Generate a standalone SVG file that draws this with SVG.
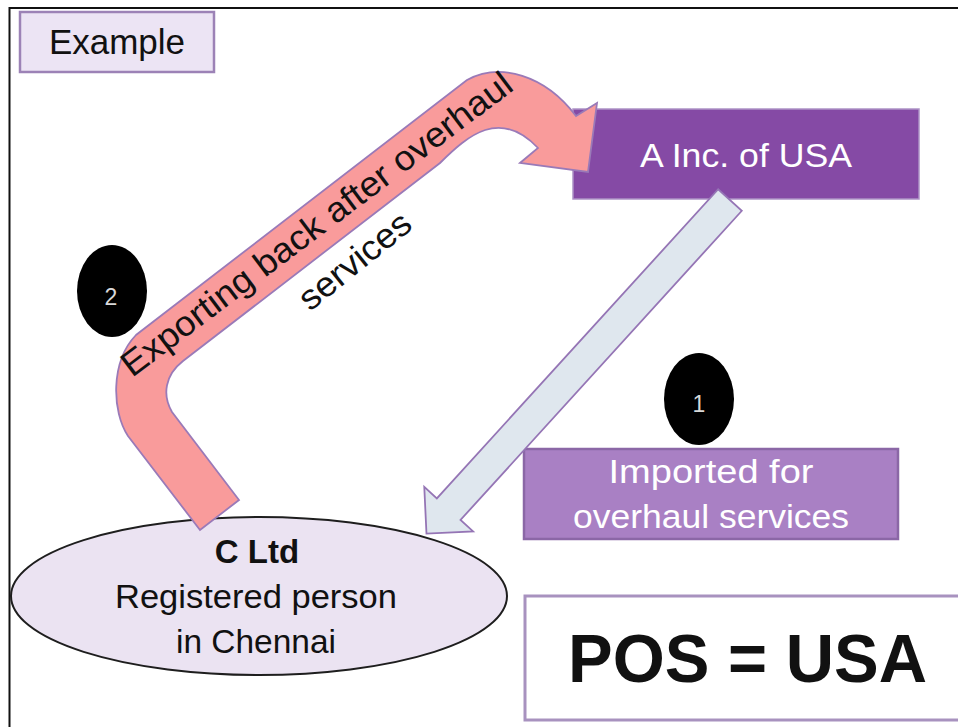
<svg xmlns="http://www.w3.org/2000/svg" width="958" height="727" viewBox="0 0 958 727">
  <style>
    .lbl { font-family: "Liberation Sans", Arial, sans-serif; }
    .white { fill: #ffffff; }
    .dark { fill: #111111; }
    .badge { fill: #000000; }
    .badge-num { font-family: "Liberation Sans", Arial, sans-serif; font-size: 23px; fill: #d8d8d8; text-anchor: middle; }
  </style>

  <rect width="958" height="727" fill="#ffffff"/>
  <!-- slide frame -->
  <rect x="9.5" y="8" width="980" height="760" fill="none" stroke="#111111" stroke-width="2"/>

  <g id="example-tag">
    <rect x="20" y="12" width="194" height="60" fill="#ece4f4" stroke="#9c82b6" stroke-width="2.5"/>
    <text class="lbl dark" x="117" y="54" font-size="35" text-anchor="middle">Example</text>
  </g>

  <g id="a-inc">
    <rect x="573" y="109" width="346" height="90" fill="#854aa5" stroke="#ad92c6" stroke-width="1.5"/>
    <text class="lbl white" x="746" y="167" font-size="34" text-anchor="middle" textLength="212" lengthAdjust="spacingAndGlyphs">A Inc. of USA</text>
  </g>

  <g id="imported-label">
    <rect x="524" y="449" width="374" height="90" fill="#a980c4" stroke="#8b67a6" stroke-width="2.5"/>
    <text class="lbl white" x="711" y="483" font-size="34" text-anchor="middle" textLength="205" lengthAdjust="spacingAndGlyphs">Imported for</text>
    <text class="lbl white" x="711" y="528" font-size="34" text-anchor="middle" textLength="276" lengthAdjust="spacingAndGlyphs">overhaul services</text>
  </g>

  <g id="pos-result">
    <rect x="525" y="596" width="450" height="124" fill="#ffffff" stroke="#a892bf" stroke-width="3"/>
    <text class="lbl dark" x="568" y="682" font-size="68" font-weight="bold" textLength="359" lengthAdjust="spacingAndGlyphs">POS = USA</text>
  </g>

  <g id="c-ltd">
    <ellipse cx="259" cy="596" rx="248" ry="79" fill="#ebe3f2" stroke="#1e1e1e" stroke-width="2"/>
    <text class="lbl dark" x="257" y="563" font-size="33" font-weight="bold" text-anchor="middle">C Ltd</text>
    <text class="lbl dark" x="256" y="608" font-size="34" text-anchor="middle" textLength="282" lengthAdjust="spacingAndGlyphs">Registered person</text>
    <text class="lbl dark" x="256" y="653" font-size="34" text-anchor="middle" textLength="160" lengthAdjust="spacingAndGlyphs">in Chennai</text>
  </g>

  <g id="step-1">
    <ellipse class="badge" cx="699" cy="399" rx="35" ry="46"/>
    <text class="badge-num" x="699" y="412">1</text>
  </g>

  <g id="step-2">
    <ellipse class="badge" cx="112" cy="291" rx="35" ry="46"/>
    <text class="badge-num" x="111" y="305">2</text>
  </g>

  <g id="connectors">
    <!-- import: A Inc. down to C Ltd -->
    <polygon transform="translate(730,200) rotate(132.3)"
             points="0,-16 418,-16 418,-33 451,0 418,33 418,16 0,16"
             fill="#dfe7ee" stroke="#9575b5" stroke-width="1.8" stroke-linejoin="miter"/>
    <!-- export: bent arrow from C Ltd back to A Inc. -->
    <path d="M200,530 L128,436 C112,412 110,362 136,335 L467,80 C500,62 545,75 576,116 L597,103 L588,172 L520,163 L538,148 C500,108 468,135 440,163 L183,361 C165,375 162,395 172,412 L239,500 Z"
          fill="#f99b9b" stroke="#9a7ab8" stroke-width="1.8" stroke-linejoin="miter"/>
    <text class="lbl dark" transform="translate(132,378) rotate(-37)" font-size="35" textLength="480" lengthAdjust="spacingAndGlyphs">Exporting back after overhaul</text>
    <text class="lbl dark" transform="translate(310,312) rotate(-39)" font-size="35" textLength="134" lengthAdjust="spacingAndGlyphs">services</text>
  </g>
</svg>
